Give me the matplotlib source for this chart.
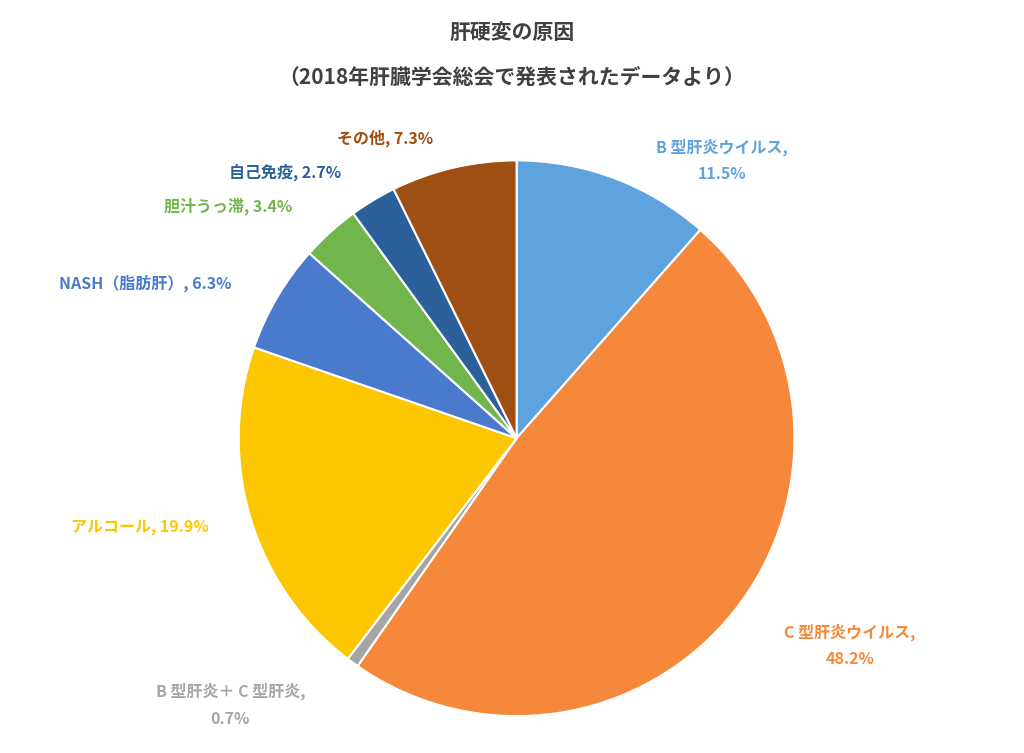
import matplotlib
matplotlib.use("Agg")
import matplotlib.pyplot as plt

plt.rcParams["font.family"] = "Noto Sans CJK JP"

categories = ["B 型肝炎ウイルス,", "C 型肝炎ウイルス,", "B 型肝炎＋ C 型肝炎,", "アルコール,",
              "NASH（脂肪肝）,", "胆汁うっ滞,", "自己免疫,", "その他,"]
values = [11.5, 48.2, 0.7, 19.9, 6.3, 3.4, 2.7, 7.3]
colors = ["#5fa3de", "#f5883a", "#a5a5a5", "#fcc700", "#4a7acb", "#72b54c", "#2b609a", "#a04f14"]
label_pos = [(0.74, 1.0), (1.2, -0.745), (-1.03, -0.96), (-1.356, -0.32),
             (-1.338, 0.558), (-1.04, 0.835), (-0.835, 0.957), (-0.475, 1.079)]
two_line = [True, True, True, False, False, False, False, False]

fig = plt.figure(figsize=(10.24, 7.53), dpi=100)
ax = fig.add_axes([0.233, 0.049, 0.543, 0.738])
ax.pie(values, colors=colors, startangle=90, counterclock=False, radius=1,
       wedgeprops=dict(edgecolor="white", linewidth=1.5))
ax.set_xlim(-1, 1); ax.set_ylim(-1, 1); ax.set_aspect("equal")
ax.axis("off")

for cat, v, c, (x, y), tl in zip(categories, values, colors, label_pos, two_line):
    txt = f"{cat}\n{v}%" if tl else f"{cat} {v}%"
    ax.text(x, y, txt, color=c, fontsize=11.5, fontweight="bold", ha="center", va="center",
            linespacing=1.8, clip_on=False)

fig.text(0.5, 0.957, "肝硬変の原因", ha="center", va="center", fontsize=15, fontweight="bold", color="#404040")
fig.text(0.5, 0.898, "（2018年肝臓学会総会で発表されたデータより）", ha="center", va="center",
         fontsize=15, fontweight="bold", color="#404040")
fig.savefig("out.png", dpi=100)
